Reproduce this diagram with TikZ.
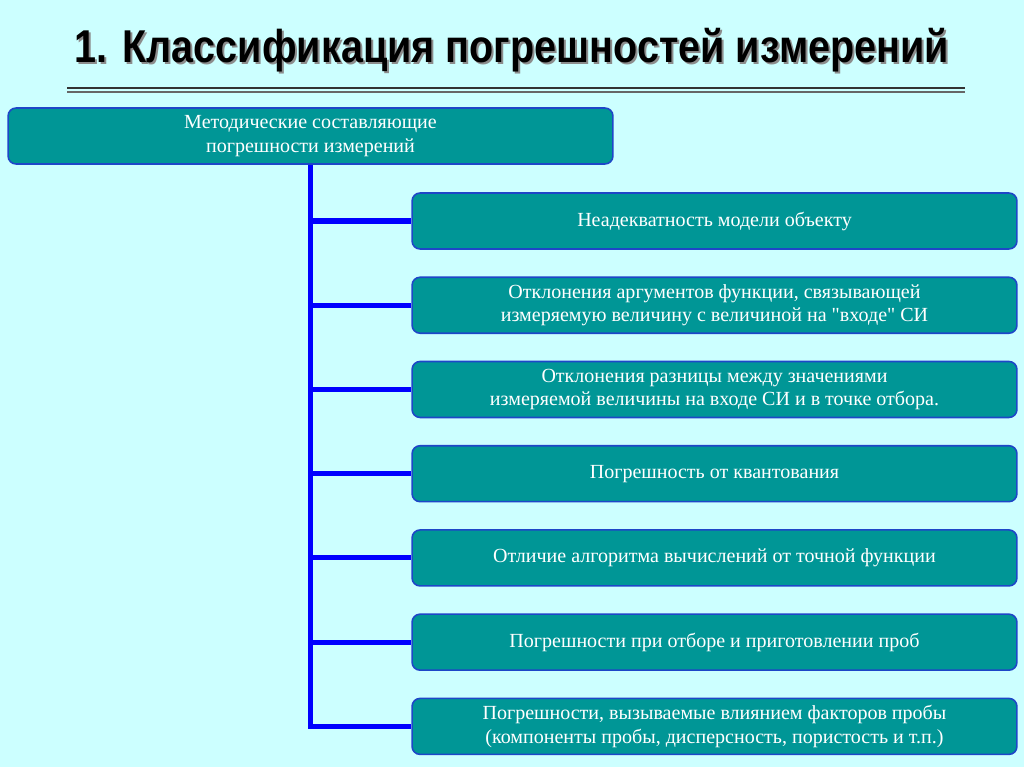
\documentclass[tikz,border=0pt]{standalone}
\usepackage{fontspec}
\setmainfont[Ligatures=TeXOff]{Liberation Serif}
\newfontfamily\titlefont[FakeStretch=0.86]{Liberation Sans}
\usetikzlibrary{positioning}

\definecolor{bgcyan}{RGB}{204,255,255}
\definecolor{boxteal}{RGB}{0,150,150}
\definecolor{boxedge}{RGB}{30,70,200}
\definecolor{busblue}{RGB}{0,0,255}

\begin{document}
\begin{tikzpicture}[x=0.02cm, y=-0.02cm, node distance=1.685cm]
        \tikzstyle{box}=[draw=boxedge, line width=0.9pt, fill=boxteal, text=white, rounded corners=0.16cm, minimum width=12.1cm, minimum height=1.12cm, inner sep=0pt, align=center, font=\fontsize{11.4}{13.6}\selectfont]
        \tikzstyle{bus}=[draw=busblue, line width=2.9pt]
        \tikzstyle{heading}=[font=\titlefont\bfseries\fontsize{26.2}{30}\selectfont]

        \useasboundingbox[fill=bgcyan] (0,0) rectangle (1024,767);

        % title with its shadow
        \node[heading, text=black!45] (shadow) at (514,52) {1. Классификация погрешностей измерений};
        \node[heading, text=black]    (title)  at (512,50) {1. Классификация погрешностей измерений};
        \draw[black!80, line width=1.2pt] (67,88) -- (965,88);
        \draw[black!60, line width=1pt] (67,92) -- (965,92);

        \node[box] (top) at (310.5,136) {Методические составляющие\\погрешности измерений};

        \node[box] (c1) at (714.5,221) {Неадекватность модели объекту};
        \node[box] (c2) [below of=c1] {Отклонения аргументов функции, связывающей\\измеряемую величину с величиной на "входе" СИ};
        \node[box] (c3) [below of=c2] {Отклонения разницы между значениями\\измеряемой величины на входе СИ и в точке отбора.};
        \node[box] (c4) [below of=c3] {Погрешность от квантования};
        \node[box] (c5) [below of=c4] {Отличие алгоритма вычислений от точной функции};
        \node[box] (c6) [below of=c5] {Погрешности при отборе и приготовлении проб};
        \node[box] (c7) [below of=c6] {Погрешности, вызываемые влиянием факторов пробы\\(компоненты пробы, дисперсность, пористость и т.п.)};

        \draw[bus] (top.south) |- (c7.west);
        \foreach \c in {c1,c2,c3,c4,c5,c6}
            \draw[bus] (top.south |- \c.west) -- (\c.west);
\end{tikzpicture}
\end{document}
